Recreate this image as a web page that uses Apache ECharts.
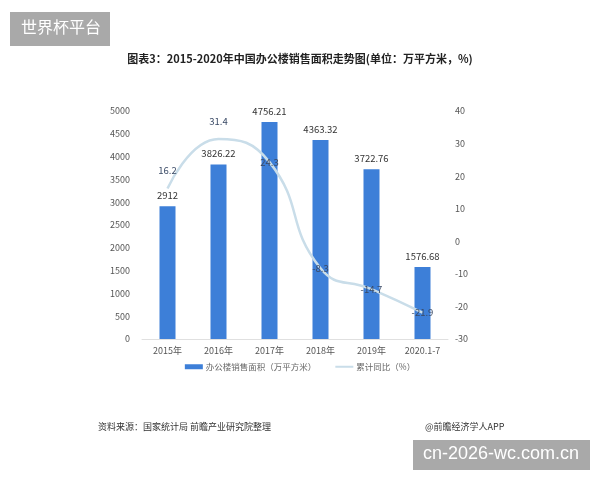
<!DOCTYPE html>
<html><head><meta charset="utf-8">
<script src="https://cdn.jsdelivr.net/npm/echarts@6/dist/echarts.min.js"></script>
<style>html,body{margin:0;padding:0;background:#fff}#c{width:600px;height:480px}</style>
</head><body><div id="c"></div>
<script>
const categories = ['2015年','2016年','2017年','2018年','2019年','2020.1-7'];
const salesArea = [2912, 3826.22, 4756.21, 4363.32, 3722.76, 1576.68];
const yoy = [16.2, 31.4, 24.3, -8.3, -14.7, -21.9];
const leftTicks = {min:0, max:5000, interval:500};
const rightTicks = {min:-30, max:40, interval:10};

const FONT = '"Noto Sans CJK SC", "Noto Sans", sans-serif';
const chart = echarts.init(document.getElementById('c'));
const lineLabelAbove = [true, true, false, false, false, false];
chart.setOption({
  animation:false,
  textStyle:{fontFamily:FONT},
  title:{text:'图表3：2015-2020年中国办公楼销售面积走势图(单位：万平方米，%)', left:'center', top:48,
    textStyle:{fontSize:11, fontWeight:'bold', color:'#222', fontFamily:FONT}},
  grid:{left:142, right:152, top:111, bottom:141},
  legend:{bottom:104, left:'center', itemGap:18, itemWidth:18, itemHeight:5,
    textStyle:{fontSize:8.5, color:'#666', padding:[0,0,0,-2]},
    data:[{name:'办公楼销售面积（万平方米）', icon:'rect'},{name:'累计同比（%）', itemStyle:{opacity:0}}]},
  xAxis:{type:'category', data:categories, axisTick:{show:false},
    axisLine:{lineStyle:{color:'#e0e0e0'}},
    axisLabel:{fontSize:9, color:'#555', margin:7}},
  yAxis:[
    {type:'value', min:leftTicks.min, max:leftTicks.max, interval:leftTicks.interval, splitLine:{show:false},
      axisLabel:{fontSize:9, color:'#555', margin:12, formatter:v=>String(v)}},
    {type:'value', min:rightTicks.min, max:rightTicks.max, interval:rightTicks.interval, splitLine:{show:false},
      axisLabel:{fontSize:9, color:'#555', margin:7, formatter:v=>String(v)}}
  ],
  series:[
    {name:'办公楼销售面积（万平方米）', type:'bar', data:salesArea, barWidth:16,
      itemStyle:{color:'#3D7FD8'},
      label:{show:true, position:'top', fontSize:9.5, color:'#333', distance:6}},
    {name:'累计同比（%）', type:'line', yAxisIndex:1, smooth:true, symbol:'none',
      data:yoy, lineStyle:{color:'#c9dde9', width:2.5}, itemStyle:{color:'#c9dde9'}},
    {name:'labels', type:'line', yAxisIndex:1, symbol:'circle', symbolSize:2, z:5,
      data:yoy.map((v,i)=>({value:v, label:{position: lineLabelAbove[i] ? 'top' : 'inside', distance:12}})),
      lineStyle:{width:0, color:'rgba(0,0,0,0)'}, itemStyle:{color:'rgba(0,0,0,0)'},
      label:{show:true, fontSize:9.5, color:'#3a4a66'}}
  ],
  graphic:[
    {type:'rect', left:10, top:12, shape:{width:100, height:34}, style:{fill:'#a9a9a9'}},
    {type:'text', left:21, top:19, style:{text:'世界杯平台', fill:'#fff', fontSize:16, fontFamily:FONT}},
    {type:'rect', left:413, top:440, shape:{width:177, height:30}, style:{fill:'#a9a9a9'}},
    {type:'text', left:423, top:445, style:{text:'cn-2026-wc.com.cn', fill:'#fff', fontSize:18, fontFamily:'"Liberation Sans", sans-serif'}},
    {type:'text', left:98, top:422, style:{text:'资料来源：国家统计局 前瞻产业研究院整理', fill:'#333', fontSize:9, fontFamily:FONT}},
    {type:'text', left:425, top:422, style:{text:'@前瞻经济学人APP', fill:'#333', fontSize:9, fontFamily:FONT}}
  ]
});
</script></body></html>
